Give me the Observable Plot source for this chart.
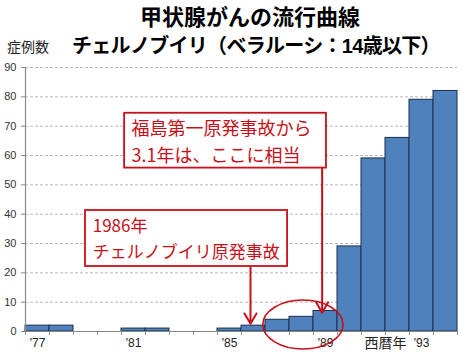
<!DOCTYPE html>
<html>
<head>
<meta charset="utf-8">
<script src="https://cdn.jsdelivr.net/npm/d3@7"></script>
<script src="https://cdn.jsdelivr.net/npm/@observablehq/plot@0.6"></script>
<style>
  html, body { margin: 0; padding: 0; background: #fff; }
  #wrap { position: relative; width: 462px; height: 358px; font-family: "Noto Sans CJK JP", "Noto Sans", sans-serif; }
  .t { position: absolute; white-space: nowrap; color: #000; }
  #title1 { left: 0; width: 500px; text-align: center; top: 1px; font-size: 22px; font-weight: bold; line-height: 28px; }
  #title2 { left: 72px; top: 31px; font-size: 20px; letter-spacing: -0.7px; font-weight: bold; line-height: 28px; }
  #ylab { left: 7px; top: 36px; font-size: 14px; line-height: 20px; color: #222; }
  #chart { position: absolute; left: 0; top: 0; }
</style>
</head>
<body>
<div id="wrap">
  <div id="chart"></div>
  <div class="t" id="title1">甲状腺がんの流行曲線</div>
  <div class="t" id="title2">チェルノブイリ（ベラルーシ：<span style="font-family:'Liberation Sans',sans-serif">14</span>歳以下）</div>
  <div class="t" id="ylab">症例数</div>
</div>
<script>
// ---- data ----
const years = [1977,1978,1979,1980,1981,1982,1983,1984,1985,1986,1987,1988,1989,1990,1991,1992,1993,1994];
const cases = [2,2,0,0,1,1,0,0,1,2,4,5,7,29,59,66,79,82];
const yTicks = [0,10,20,30,40,50,60,70,80,90];
const xLabelYears = [1977,1981,1985,1989,1993];
const xLabels = ["'77","'81","'85","'89","'93"];
const xAxisTitle = "西暦年";

// annotations (data coordinates: year, cases)
const note1Lines = ["福島第一原発事故から", "3.1年は、ここに相当"];
const note1Box = {x1: 1981.13, x2: 1989.54, y1: 55.7, y2: 74.4};
const note1TextX = 1981.42;
const note1CenterY = 65.3;
const note1Arrow = {x: 1989.36, y1: 55.7, y2: 6.4};

const note2Lines = ["1986年", "チェルノブイリ原発事故"];
const note2Box = {x1: 1979.5, x2: 1987.92, y1: 22.16, y2: 41.25};
const note2TextX = 1979.8;
const note2CenterY = 32.4;
const note2Arrow = {x: 1986.375, y1: 22.16, y2: 2.6};

const circle = {cx: 1988.58, cy: 2.2, rx: 1.67, ry: 8.35};

const red = "#c8101a";

// ---- build ----
const bars = years.map((y, i) => ({year: y, n: cases[i]})).filter(d => d.n > 0);
const boundaries = years.concat([years[years.length - 1] + 1]);
const labelTable = xLabelYears.map((y, i) => ({x: y + 0.5, label: xLabels[i]}));
const lbl = new Map(labelTable.map(d => [d.x, d.label]));

const ellipseMark = (index, scales) => {
  const {x, y} = scales;
  const e = d3.create("svg:ellipse")
    .attr("cx", x(circle.cx)).attr("cy", y(circle.cy))
    .attr("rx", x(circle.cx + circle.rx) - x(circle.cx))
    .attr("ry", y(circle.cy) - y(circle.cy + circle.ry))
    .attr("fill", "none").attr("stroke", red).attr("stroke-width", 1.6);
  return e.node();
};

const plot = Plot.plot({
  width: 462,
  height: 358,
  marginLeft: 25,
  marginRight: 5,
  marginTop: 67,
  marginBottom: 27,
  style: {fontFamily: "'Liberation Sans', 'Noto Sans', sans-serif", background: "transparent", overflow: "visible"},
  x: {domain: [1977, 1995], axis: null},
  y: {domain: [0, 90], axis: null},
  marks: [
    Plot.gridY(yTicks, {stroke: "#b8b8b8", strokeOpacity: 1, strokeDasharray: "3,2"}),
    Plot.axisY({ticks: yTicks, tickSize: 4, tickPadding: 5, fontSize: 11, color: "#333", stroke: "#888"}),
    Plot.axisX({ticks: boundaries, tickSize: 4, tickFormat: () => "", stroke: "#999"}),
    Plot.axisX({ticks: labelTable.map(d => d.x), tickSize: 0, tickPadding: 7, fontSize: 12, color: "#222", tickFormat: d => lbl.get(d)}),
    Plot.text([xAxisTitle], {x: () => 1992.0, frameAnchor: "bottom", dy: 12, text: d => d, fontSize: 14, fill: "#222", fontFamily: "Noto Sans CJK JP", lineAnchor: "middle"}),
    Plot.rect(bars, {x1: "year", x2: d => d.year + 1, y1: 0, y2: "n", fill: "#4f81bd", stroke: "#1c2e48", strokeWidth: 1}),
    Plot.ruleX([1977], {stroke: "#888", strokeWidth: 1.2}),
    Plot.ruleY([0], {stroke: "#888", strokeWidth: 1.2}),
    ellipseMark,
    // note 2
    Plot.rect([note2Box], {x1: "x1", x2: "x2", y1: "y1", y2: "y2", fill: "white", stroke: red, strokeWidth: 1.8}),
    Plot.text([note2Lines.join("\n")], {x: () => note2TextX, y: () => note2CenterY, text: d => d, textAnchor: "start", lineAnchor: "middle", lineHeight: 1.53, fontSize: 17, fill: red, fontFamily: "Noto Sans CJK JP"}),
    Plot.arrow([note2Arrow], {x1: "x", x2: "x", y1: "y1", y2: "y2", stroke: red, strokeWidth: 2, headLength: 9, bend: 0}),
    // note 1
    Plot.rect([note1Box], {x1: "x1", x2: "x2", y1: "y1", y2: "y2", fill: "white", stroke: red, strokeWidth: 1.8}),
    Plot.text([note1Lines.join("\n")], {x: () => note1TextX, y: () => note1CenterY, text: d => d, textAnchor: "start", lineAnchor: "middle", lineHeight: 1.46, fontSize: 18, fill: red, fontFamily: "Noto Sans CJK JP"}),
    Plot.arrow([note1Arrow], {x1: "x", x2: "x", y1: "y1", y2: "y2", stroke: red, strokeWidth: 2, headLength: 9, bend: 0})
  ]
});
document.getElementById("chart").appendChild(plot);
</script>
</body>
</html>
